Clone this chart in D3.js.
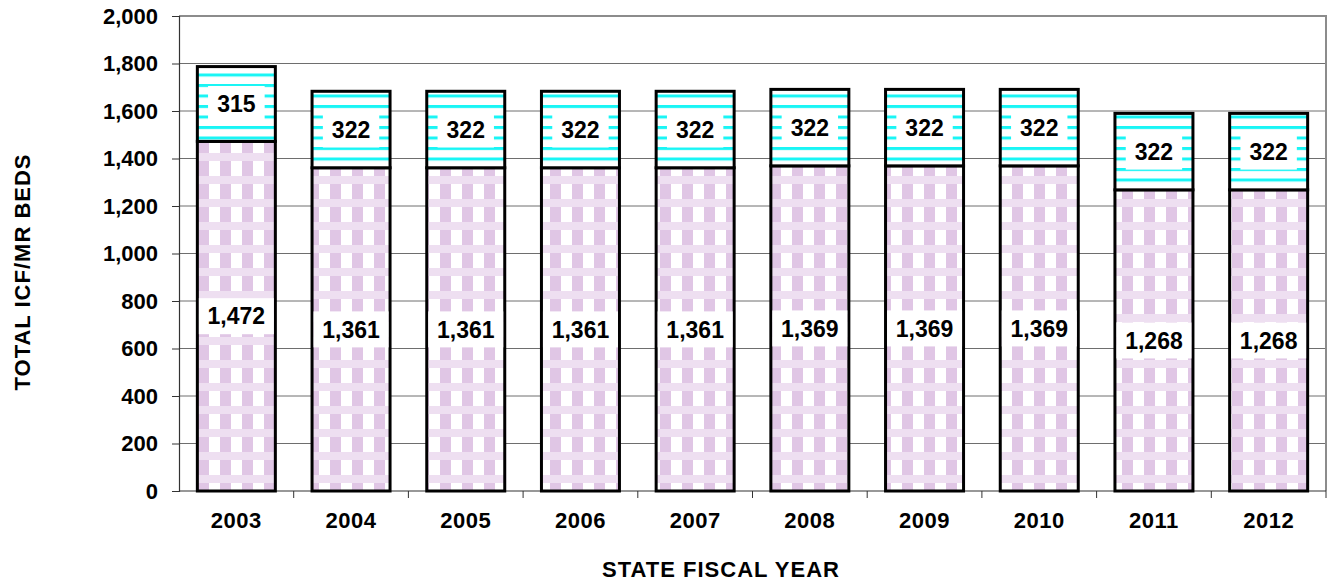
<!DOCTYPE html>
<html>
<head>
<meta charset="utf-8">
<script src="https://cdn.jsdelivr.net/npm/d3@7"></script>
<style>
  body { margin: 0; background: #fff; }
  svg { display: block; font-family: "Liberation Sans", Arial, sans-serif; font-weight: bold; }
</style>
</head>
<body>
<div id="chart"></div>
<script>
// data
const years = ['2003', '2004', '2005', '2006', '2007', '2008', '2009', '2010', '2011', '2012'];
const baseBeds = [1472, 1361, 1361, 1361, 1361, 1369, 1369, 1369, 1268, 1268];
const topBeds = [315, 322, 322, 322, 322, 322, 322, 322, 322, 322];
const yTicks = [0, 200, 400, 600, 800, 1000, 1200, 1400, 1600, 1800, 2000];

const W = 1328, H = 582;
const margin = { top: 16, right: 2, bottom: 91, left: 179 };

const svg = d3.select('#chart').append('svg')
    .attr('width', W)
    .attr('height', H);

// patterns
const defs = svg.append('defs');
const checker = defs.append('pattern')
    .attr('id', 'checker')
    .attr('patternUnits', 'userSpaceOnUse')
    .attr('width', 22).attr('height', 23);
checker.append('rect').attr('width', 22).attr('height', 23).attr('fill', '#fff');
checker.append('rect').attr('x', 0).attr('y', 0).attr('width', 11).attr('height', 15).attr('fill', '#e0c6e5');
checker.append('rect').attr('x', 0).attr('y', 15).attr('width', 22).attr('height', 8).attr('fill', '#eedff1');

const stripes = defs.append('pattern')
    .attr('id', 'stripes')
    .attr('patternUnits', 'userSpaceOnUse')
    .attr('width', 10).attr('height', 10.5);
stripes.append('rect').attr('width', 10).attr('height', 10.5).attr('fill', '#fff');
stripes.append('rect').attr('y', 0).attr('width', 10).attr('height', 3).attr('fill', '#19f5f5');

const x = d3.scaleBand()
    .domain(years)
    .range([margin.left, W - margin.right])
    .paddingInner(0.32)
    .paddingOuter(0.16);

const y = d3.scaleLinear()
    .domain([0, 2000])
    .range([H - margin.bottom, margin.top]);

// gridlines
svg.append('g')
    .selectAll('line')
    .data(yTicks.slice(1, -1))
    .join('line')
    .attr('x1', margin.left).attr('x2', W - margin.right)
    .attr('y1', d => y(d)).attr('y2', d => y(d))
    .attr('stroke', '#6e6e6e')
    .attr('stroke-width', 1);

// plot frame (top and right)
svg.append('path')
    .attr('d', `M${margin.left},${y(2000)}H${W - margin.right}V${y(0)}`)
    .attr('fill', 'none')
    .attr('stroke', '#8c8c8c')
    .attr('stroke-width', 2);

// y axis
const yAxis = svg.append('g')
    .attr('transform', `translate(${margin.left},0)`)
    .call(d3.axisLeft(y).tickValues(yTicks).tickFormat(d3.format(',')).tickSize(7).tickPadding(14));
yAxis.select('.domain').attr('stroke', '#333').attr('stroke-width', 1.2);
yAxis.selectAll('.tick line').attr('stroke', '#333');
yAxis.selectAll('text')
    .attr('fill', '#000')
    .style('font-size', '22px')
    .style('font-weight', 'bold')
    .style('font-family', '"Liberation Sans", Arial, sans-serif');

// x axis with ticks between categories
const xAxis = svg.append('g')
    .attr('transform', `translate(0,${y(0)})`);
xAxis.append('line')
    .attr('x1', margin.left).attr('x2', W - margin.right)
    .attr('y1', 0).attr('y2', 0)
    .attr('stroke', '#333').attr('stroke-width', 1.2);
const step = x.step();
xAxis.selectAll('.sep')
    .data(years)
    .join('line')
    .attr('class', 'sep')
    .attr('x1', d => x(d) - x.paddingOuter() * step + step)
    .attr('x2', d => x(d) - x.paddingOuter() * step + step)
    .attr('y1', 0).attr('y2', 7)
    .attr('stroke', '#333');
xAxis.selectAll('.lab')
    .data(years)
    .join('text')
    .attr('class', 'lab')
    .attr('x', d => x(d) + x.bandwidth() / 2)
    .attr('y', 37)
    .attr('text-anchor', 'middle')
    .style('font-size', '22px')
    .style('letter-spacing', '0.5px')
    .text(d => d);

// bars
const bars = svg.append('g')
    .selectAll('g')
    .data(years.map((yr, i) => ({ yr, base: baseBeds[i], top: topBeds[i] })))
    .join('g');

bars.append('rect')
    .attr('x', d => x(d.yr))
    .attr('width', x.bandwidth())
    .attr('y', d => y(d.base))
    .attr('height', d => y(0) - y(d.base))
    .attr('fill', 'url(#checker)')
    .attr('stroke', '#000')
    .attr('stroke-width', 3);

bars.append('rect')
    .attr('x', d => x(d.yr))
    .attr('width', x.bandwidth())
    .attr('y', d => y(d.base + d.top))
    .attr('height', d => y(d.base) - y(d.base + d.top))
    .attr('fill', 'url(#stripes)')
    .attr('stroke', '#000')
    .attr('stroke-width', 3);

// data labels
function addLabel(sel, valFn, midFn) {
    const g = sel.append('g')
        .attr('transform', d => `translate(${x(d.yr) + x.bandwidth() / 2},${y(midFn(d))})`);
    g.append('text')
        .attr('text-anchor', 'middle')
        .attr('dy', '0.36em')
        .style('font-size', '23px')
        .text(d => d3.format(',')(valFn(d)));
    g.each(function () {
        const node = d3.select(this);
        const bb = node.select('text').node().getBBox();
        const w = Math.min(bb.width + 18, x.bandwidth() - 3);
        node.insert('rect', 'text')
            .attr('x', -w / 2).attr('y', -18)
            .attr('width', w).attr('height', 36)
            .attr('fill', '#fff');
    });
}
addLabel(bars, d => d.base, d => d.base / 2);
addLabel(bars, d => d.top, d => d.base + d.top / 2);

// axis titles
svg.append('text')
    .attr('x', 721)
    .attr('y', 577)
    .attr('text-anchor', 'middle')
    .style('font-size', '22px')
    .style('letter-spacing', '1px')
    .text('STATE FISCAL YEAR');

svg.append('text')
    .attr('transform', 'translate(30,272) rotate(-90)')
    .attr('text-anchor', 'middle')
    .style('font-size', '22px')
    .style('letter-spacing', '1px')
    .text('TOTAL ICF/MR BEDS');
</script>
</body>
</html>
